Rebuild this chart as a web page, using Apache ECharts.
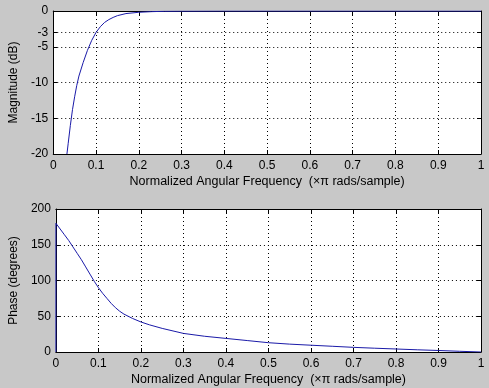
<!DOCTYPE html>
<html>
<head>
<meta charset="utf-8">
<script src="https://cdn.jsdelivr.net/npm/echarts@6/dist/echarts.min.js"></script>
<style>
html,body{margin:0;padding:0;background:#c8c8c8;}
#chart{width:489px;height:388px;}
</style>
</head>
<body>
<div id="chart"></div>
<script>
// Frequency axis (x π rad/sample)
const xTicks = [0, 0.1, 0.2, 0.3, 0.4, 0.5, 0.6, 0.7, 0.8, 0.9, 1];
const magTicks = [-20, -15, -10, -5, -3, 0];
const phaseTicks = [0, 50, 100, 150, 200];

// Magnitude response (dB)
const magFreq = [0.032, 0.035, 0.04, 0.045, 0.05, 0.055, 0.06, 0.07, 0.08, 0.09, 0.1, 0.11, 0.12, 0.13, 0.14, 0.15, 0.17, 0.2, 0.23, 0.26, 0.3, 0.4, 0.5, 0.6, 0.7, 0.8, 0.9, 1.0];
const magDb   = [-20, -18.5, -16, -13.8, -12, -10.4, -9.1, -7.2, -5.5, -4.1, -3.0, -2.2, -1.6, -1.2, -0.9, -0.65, -0.36, -0.18, -0.09, -0.04, -0.02, 0, 0, 0, 0, 0, 0, 0];

// Phase response (degrees)
const phaseFreq = [0, 0, 0.01, 0.02, 0.03, 0.04, 0.05, 0.06, 0.07, 0.08, 0.09, 0.1, 0.11, 0.12, 0.13, 0.14, 0.15, 0.16, 0.18, 0.2, 0.22, 0.25, 0.3, 0.35, 0.4, 0.45, 0.5, 0.55, 0.6, 0.65, 0.7, 0.75, 0.8, 0.85, 0.9, 0.95, 1.0];
const phaseDeg  = [0, 180, 172, 164, 156, 147, 138, 129, 119, 109, 99, 90, 82, 75, 68, 62, 57, 53, 47, 42, 38, 33, 26, 22, 19, 16, 13, 11, 9.5, 8, 6.5, 5.3, 4.2, 3.1, 2.1, 1, 0];

const FONT = 'Liberation Sans';
const txt = {color:'#000', fontFamily:FONT, fontSize:12};
const xName = {color:'#000', fontFamily:FONT, fontSize:12.5};
const axLine = {show:true, onZero:false, lineStyle:{color:'#000', width:1}};
const tick = {show:true, inside:true, length:4, lineStyle:{color:'#000'}};
const grid = {show:true, lineStyle:{color:'#000', type:[1,3], width:1}};

function xAxes(gi){
  return [
    {type:'value', gridIndex:gi, min:0, max:1, interval:0.1, position:'bottom',
     name:'Normalized Angular Frequency  (\u00d7\u03c0 rads/sample)', nameLocation:'middle', nameGap:21,
     nameTextStyle:xName, axisLine:axLine, axisTick:tick, splitLine:grid,
     axisLabel:Object.assign({margin:6, customValues:xTicks}, txt)},
    {type:'value', gridIndex:gi, min:0, max:1, interval:0.1, position:'top',
     axisLine:axLine, axisTick:tick, splitLine:{show:false}, axisLabel:{show:false}}
  ];
}
function yAxes(gi, min, max, ticks, name){
  return [
    {type:'value', gridIndex:gi, min:min, max:max, position:'left',
     name:name, nameLocation:'middle', nameGap:31, nameTextStyle:txt,
     axisLine:axLine, axisTick:Object.assign({customValues:ticks}, tick), splitLine:grid,
     axisLabel:Object.assign({margin:5, customValues:ticks}, txt)},
    {type:'value', gridIndex:gi, min:min, max:max, position:'right',
     axisLine:axLine, axisTick:Object.assign({customValues:ticks}, tick),
     splitLine:{show:false}, axisLabel:{show:false}}
  ];
}

const chart = echarts.init(document.getElementById('chart'), null, {renderer:'canvas'});
chart.setOption({
  backgroundColor:'#c8c8c8',
  animation:false,
  grid:[
    {left:48, right:8, top:11, height:143, show:true, backgroundColor:'#fff', borderWidth:0},
    {left:48, right:8, top:209, height:143, show:true, backgroundColor:'#fff', borderWidth:0}
  ],
  xAxis:[...xAxes(0), ...xAxes(1)],
  yAxis:[...yAxes(0, -20, 0, magTicks, 'Magnitude (dB)'), ...yAxes(1, 0, 200, phaseTicks, 'Phase (degrees)')],
  series:[
    {type:'line', xAxisIndex:0, yAxisIndex:0, data:magFreq.map((f,i)=>[f, magDb[i]]),
     showSymbol:false, clip:true, lineStyle:{color:'#1a1aa8', width:1}},
    {type:'line', xAxisIndex:2, yAxisIndex:2, data:phaseFreq.map((f,i)=>[f, phaseDeg[i]]),
     showSymbol:false, clip:true, lineStyle:{color:'#1a1aa8', width:1}}
  ]
});
</script>
</body>
</html>
